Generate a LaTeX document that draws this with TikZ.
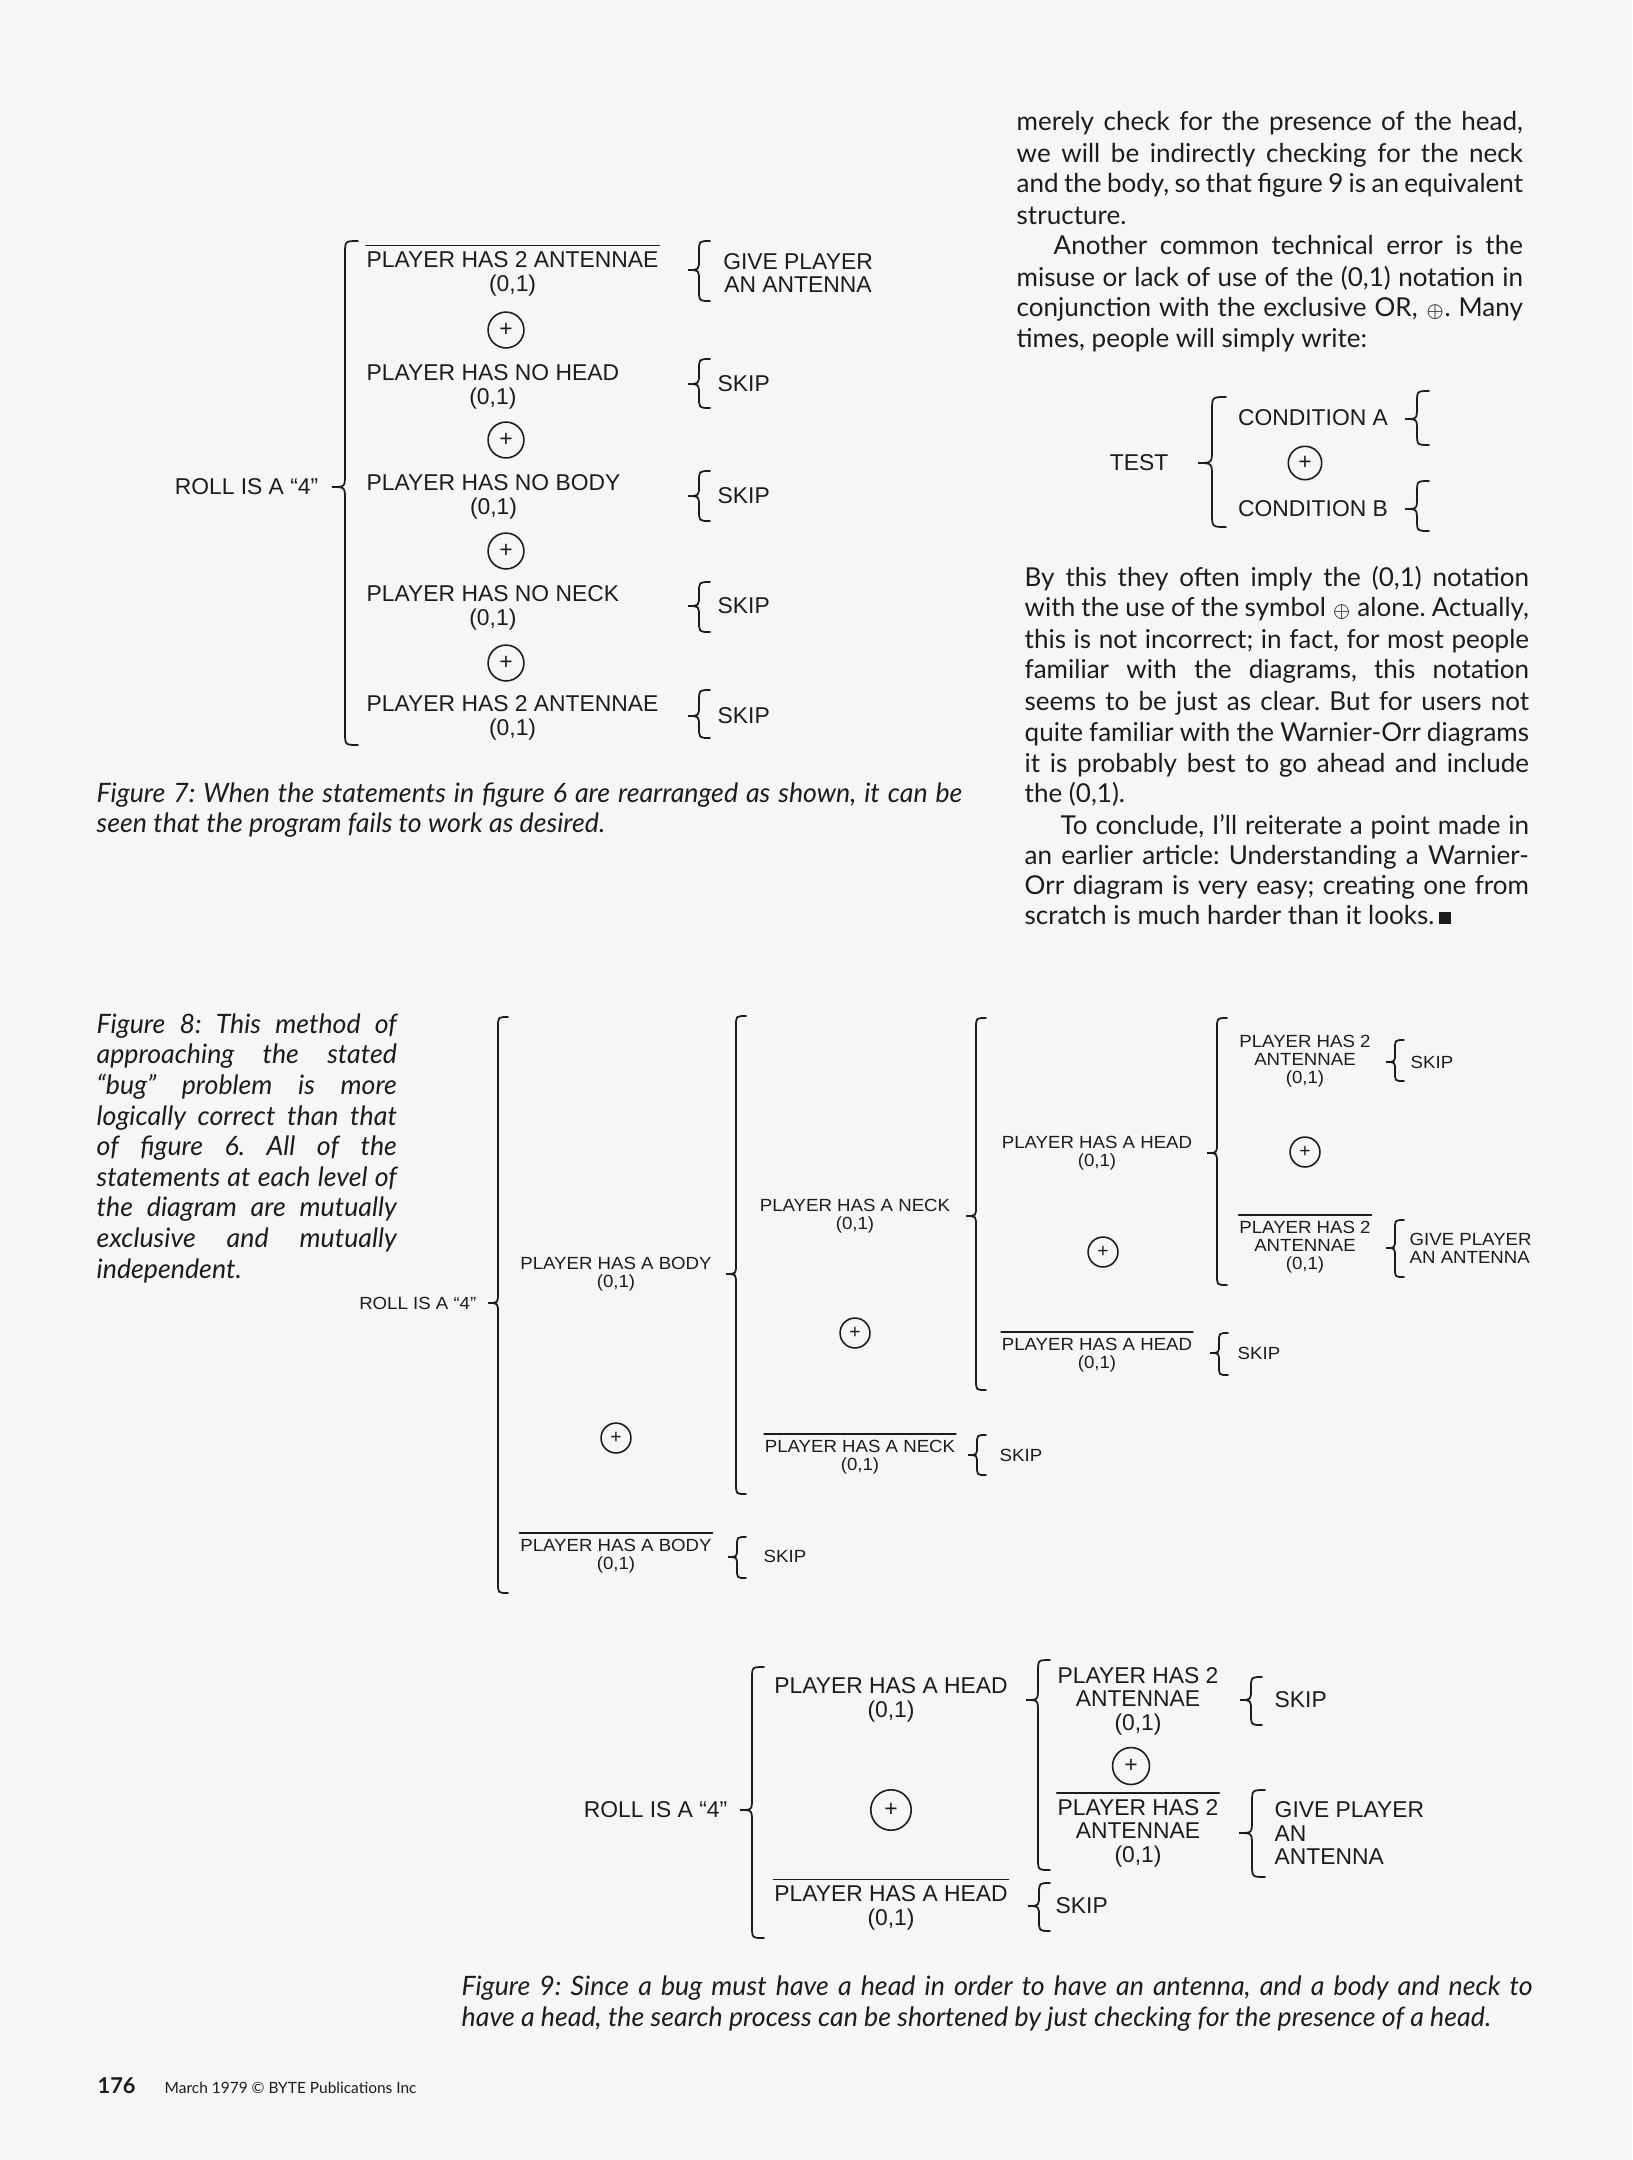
\documentclass[tikz,border=0pt]{standalone}
\usepackage{fontspec}
\setmainfont{Lato}
\newfontfamily\wofont{Liberation Sans}
\newfontfamily\wosmall[FakeStretch=1.06]{Liberation Sans}
\usetikzlibrary{calc}
\definecolor{paper}{HTML}{F6F6F4}
\definecolor{ink}{HTML}{1C1C1C}
\frenchspacing
\tikzset{
  wbr/.style={draw=ink,line width=0.5pt,line cap=round},
  lbl/.style={font=\wofont\fontsize{6.5}{6.7}\selectfont,align=center,inner sep=0pt,text=ink},
  lbls/.style={font=\wosmall\fontsize{5}{5.1}\selectfont,align=center,inner sep=0pt,text=ink},
  xorsign/.style={circle,draw=ink,line width=0.45pt,inner sep=0pt,minimum size=#1,
    font=\wofont\fontsize{6.5}{6.5}\selectfont,text=ink},
  xorsign/.default=9.5pt,
  xorsmall/.style={xorsign=8.5pt,font=\wofont\fontsize{5.5}{5.5}\selectfont},
  body/.style={anchor=base west,inner sep=0pt,font=\fontsize{7.4}{9}\selectfont,text=ink},
  capt/.style={anchor=base west,inner sep=0pt,font=\itshape\fontsize{7.6}{9}\selectfont,text=ink}
}
\newcommand{\wobrace}[5][11]{\draw[wbr] ({#2+#1},#3) .. controls (#2,#3) .. (#2,{#3+#1})
  -- (#2,{#4-#1}) .. controls (#2,#4) .. ({#2-#1},#4) .. controls (#2,#4) .. (#2,{#4+#1})
  -- (#2,{#5-#1}) .. controls (#2,#5) .. ({#2+#1},#5);}
\newcommand{\notbar}[1]{\draw[wbr] ([yshift=1.6pt]#1.north west) -- ([yshift=1.6pt]#1.north east);}
\begin{document}
\begin{tikzpicture}[x=0.01cm,y=-0.01cm]
\useasboundingbox (0,0) rectangle (1632,2160);
\fill[paper] (0,0) rectangle (1632,2160);

% figure 7
\node[lbl,anchor=east] (roll7) at (319,487) {ROLL IS A “4”};
\wobrace[13]{345}{241}{487}{745}
\foreach \y/\t [count=\i] in {274/PLAYER HAS 2 ANTENNAE,387/PLAYER HAS NO HEAD,497/PLAYER HAS NO BODY,608/PLAYER HAS NO NECK,718/PLAYER HAS 2 ANTENNAE}
  \node[lbl,anchor=west] (cond\i) at (366,\y) {\t\\(0,1)};
\notbar{cond1}
\foreach \y [count=\i] in {330,440,551,663}
  \node[xorsign=10.2pt] (xor\i) at (506,\y) {+};
\foreach \t/\m/\b in {241/270/301,359/384/408,471/496/521,582/606/632,690/716/738}
  {\wobrace[11]{699}{\t}{\m}{\b}}
\node[lbl] (give7) at (798,273) {GIVE PLAYER\\AN ANTENNA};
\foreach \y [count=\i] in {384,496,606,716}
  \node[lbl,anchor=west] (skipa\i) at (717,\y) {SKIP};

% test
\node[lbl] (test) at (1139,463) {TEST};
\wobrace[14]{1212}{397}{463}{527}
\node[lbl] (conda) at (1313,418) {CONDITION A};
\node[xorsign] (xort) at (1305,463) {+};
\node[lbl] (condb) at (1313,509) {CONDITION B};
\wobrace[12]{1417}{391}{419}{445}
\wobrace[12]{1417}{481}{509}{531}

% figure 8
\node[lbls,anchor=east] (roll8) at (477,1303) {ROLL IS A “4”};
\wobrace[10]{498}{1017}{1303}{1593}
\node[lbls] (body) at (616,1274) {PLAYER HAS A BODY\\(0,1)};
\node[xorsmall] (xorb) at (616,1438) {+};
\node[lbls] (nobody) at (616,1556) {PLAYER HAS A BODY\\(0,1)};
\notbar{nobody}
\wobrace[9]{737}{1537}{1557}{1578}
\node[lbls,anchor=west] (skipb) at (763,1556) {SKIP};
\wobrace[10]{736}{1016}{1274}{1494}
\node[lbls] (neck) at (855,1216) {PLAYER HAS A NECK\\(0,1)};
\node[xorsmall] (xorn) at (855,1333) {+};
\node[lbls] (noneck) at (860,1457) {PLAYER HAS A NECK\\(0,1)};
\notbar{noneck}
\wobrace[9]{977}{1435}{1455}{1475}
\node[lbls,anchor=west] (skipn) at (999,1455) {SKIP};
\wobrace[10]{976}{1018}{1216}{1390}
\node[lbls] (head) at (1097,1153) {PLAYER HAS A HEAD\\(0,1)};
\node[xorsmall] (xorh) at (1103,1252) {+};
\node[lbls] (nohead) at (1097,1355) {PLAYER HAS A HEAD\\(0,1)};
\notbar{nohead}
\wobrace[9]{1219}{1333}{1353}{1375}
\node[lbls,anchor=west] (skiph) at (1237,1353) {SKIP};
\wobrace[10]{1217}{1018}{1153}{1285}
\node[lbls] (ant) at (1305,1061) {PLAYER HAS 2\\ANTENNAE\\(0,1)};
\node[xorsmall] (xora) at (1305,1152) {+};
\node[lbls] (noant) at (1305,1247) {PLAYER HAS 2\\ANTENNAE\\(0,1)};
\notbar{noant}
\wobrace[9]{1395}{1040}{1062}{1081}
\node[lbls,anchor=west] (skipt) at (1410,1062) {SKIP};
\wobrace[9]{1395}{1220}{1248}{1277}
\node[lbls,anchor=west,align=left] (give8) at (1409,1248) {GIVE PLAYER\\AN ANTENNA};

% figure 9
\node[lbl,anchor=east] (roll9) at (728,1810) {ROLL IS A “4”};
\wobrace[12]{752}{1667}{1810}{1938}
\node[lbl] (head9) at (891,1700) {PLAYER HAS A HEAD\\(0,1)};
\node[xorsign=11.5pt] (xor9) at (891,1810) {+};
\node[lbl] (nohead9) at (891,1908) {PLAYER HAS A HEAD\\(0,1)};
\notbar{nohead9}
\wobrace[11]{1039}{1883}{1906}{1931}
\node[lbl,anchor=west] (skip9) at (1055,1906) {SKIP};
\wobrace[12]{1038}{1660}{1700}{1870}
\node[lbl] (ant9) at (1138,1701) {PLAYER HAS 2\\ANTENNAE\\(0,1)};
\node[xorsign=10.5pt] (xora9) at (1131,1766) {+};
\node[lbl] (noant9) at (1138,1833) {PLAYER HAS 2\\ANTENNAE\\(0,1)};
\notbar{noant9}
\wobrace[11]{1251}{1677}{1700}{1725}
\node[lbl,anchor=west] (skipt9) at (1274,1700) {SKIP};
\wobrace[13]{1252}{1790}{1833}{1877}
\node[lbl,anchor=west,align=left] (give9) at (1274,1833) {GIVE PLAYER\\AN\\ANTENNA};

% text column
\foreach \x/\y/\w/\t [count=\i] in {
  1016/130/5.06/{merely check for the presence of the head,},
  1016/162/5.06/{we will be indirectly checking for the neck},
  1016/192/5.06/{and the body, so that figure 9 is an equivalent},
  1053/254/4.69/{Another common technical error is the},
  1016/286/5.06/{misuse or lack of use of the (0,1) notation in},
  1016/316/5.06/{conjunction with the exclusive OR, ${\scriptstyle\oplus}$. Many},
  1024/586/5.04/{By this they often imply the (0,1) notation},
  1024/616/5.04/{with the use of the symbol ${\scriptstyle\oplus}$ alone. Actually,},
  1024/648/5.04/{this is not incorrect; in fact, for most people},
  1024/678/5.04/{familiar with the diagrams, this notation},
  1024/710/5.04/{seems to be just as clear. But for users not},
  1024/741/5.04/{quite familiar with the Warnier-Orr diagrams},
  1024/772/5.04/{it is probably best to go ahead and include},
  1060/834/4.68/{To conclude, I’ll reiterate a point made in},
  1024/864/5.04/{an earlier article: Understanding a Warnier-},
  1024/894/5.04/{Orr diagram is very easy; creating one from}}
  \node[body] (line\i) at (\x,\y) {\makebox[\w cm][s]{\t}};
\node[body] (endp1) at (1016,224) {structure.};
\node[body] (endp2) at (1016,347) {times, people will simply write:};
\node[body] (endp3) at (1024,802) {the (0,1).};
\node[body] (endp4) at (1024,924) {scratch is much harder than it looks.\,\rule{3.5pt}{3.5pt}};

% captions
\node[capt] (cap7) at (96,802) {\makebox[8.65cm][s]{Figure 7: When the statements in figure 6 are rearranged as shown, it can be}};
\node[capt] (cap7b) at (96,832) {seen that the program fails to work as desired.};
\foreach \y/\t [count=\i] in {1033/{Figure 8: This method of},1063/{approaching the stated},1094/{“bug” problem is more},
  1125/{logically correct than that},1155/{of figure 6. All of the},1186/{statements at each level of},
  1216/{the diagram are mutually},1247/{exclusive and mutually}}
  \node[capt] (cape\i) at (96,\y) {\makebox[3.0cm][s]{\t}};
\node[capt] (cap8) at (96,1278) {independent.};
\node[capt] (cap9) at (461,1995) {\makebox[10.7cm][s]{Figure 9: Since a bug must have a head in order to have an antenna, and a body and neck to}};
\node[capt] (cap9b) at (461,2026) {have a head, the search process can be shortened by just checking for the presence of a head.};

% footer
\node[anchor=base west,inner sep=0pt,font=\bfseries\fontsize{6.2}{7}\selectfont,text=ink] (page) at (97,2093) {176};
\node[anchor=base west,inner sep=0pt,font=\fontsize{4.4}{5}\selectfont,text=ink] (foot) at (164,2093) {March 1979 © BYTE Publications Inc};
\end{tikzpicture}
\end{document}
